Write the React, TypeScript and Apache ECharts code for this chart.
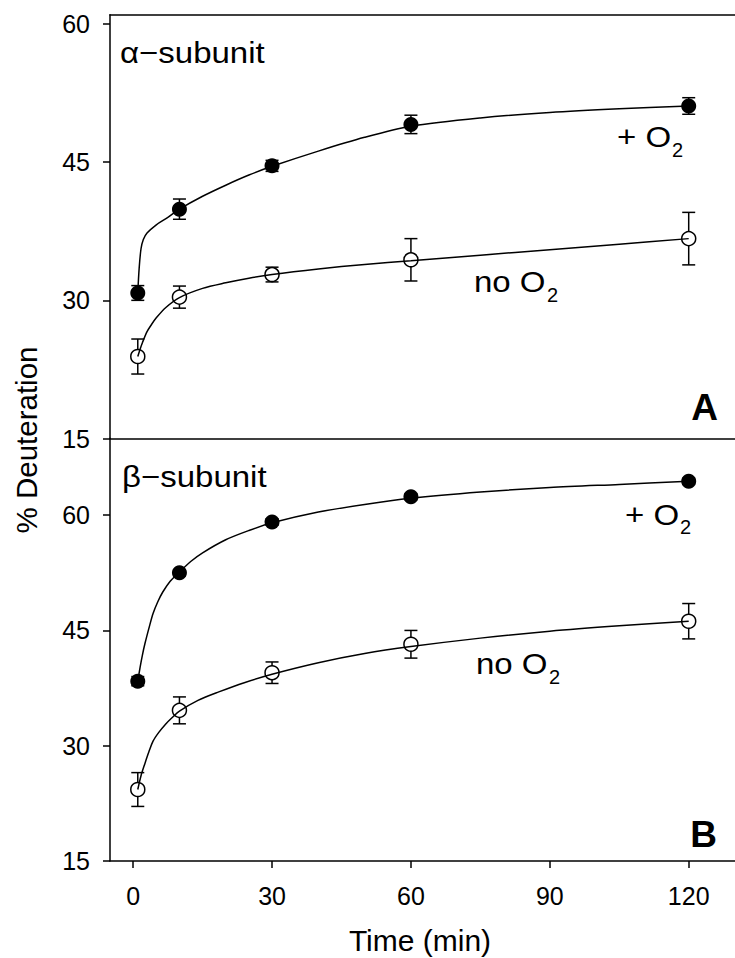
import React, { useEffect, useRef } from "react";
import * as echarts from "echarts";

// ---- data ----
const timePoints = [1, 10, 30, 60, 120];

const alphaO2Mean = [30.8, 39.9, 44.6, 49.1, 51.1];
const alphaO2Err = [0.8, 1.1, 0.6, 1.0, 0.9];
const alphaNoO2Mean = [23.9, 30.35, 32.8, 34.4, 36.7];
const alphaNoO2Err = [1.9, 1.2, 0.8, 2.3, 2.85];

const betaO2Mean = [38.4, 52.5, 59.1, 62.4, 64.4];
const betaO2Err = [0.6, 0.4, 0.4, 0.4, 0.4];
const betaNoO2Mean = [24.3, 34.6, 39.5, 43.2, 46.2];
const betaNoO2Err = [2.2, 1.75, 1.4, 1.8, 2.3];

// fitted curves, points
const alphaO2Fit = [
  [1, 30.8], [1.3, 33.5], [1.7, 35.6], [2.2, 36.6], [3, 37.3], [5, 38.2], [7.5, 39.0],
  [10, 39.9], [15, 41.3], [20, 42.5], [25, 43.6], [30, 44.55], [40, 46.2], [50, 47.7],
  [60, 48.9], [75, 49.8], [90, 50.4], [105, 50.8], [120, 51.1],
];
const alphaNoO2Fit = [
  [1, 23.9], [1.5, 24.7], [2, 25.4], [3, 26.6], [4, 27.4], [5, 28.1], [7, 29.2],
  [10, 30.3], [15, 31.3], [20, 31.9], [25, 32.4], [30, 32.8], [40, 33.4], [50, 33.9],
  [60, 34.3], [75, 34.9], [90, 35.5], [105, 36.1], [120, 36.7],
];
const betaO2Fit = [
  [1, 38.4], [1.5, 40.2], [2, 41.8], [2.55, 43.3], [3.5, 45.5], [4.3, 47.2], [5.3, 48.7],
  [6.4, 50.0], [8, 51.4], [10, 52.6], [12.5, 54.0], [15, 55.1], [20, 56.8], [25, 58.0],
  [30, 59.0], [40, 60.4], [50, 61.4], [60, 62.2], [75, 63.0], [90, 63.6], [105, 64.0], [120, 64.4],
];
const betaNoO2Fit = [
  [1, 24.3], [1.7, 26.1], [2.55, 27.7], [3.4, 29.2], [4.3, 30.6], [5.5, 31.7], [7, 32.8],
  [8.5, 33.7], [10, 34.5], [14, 35.9], [18.5, 37.0], [24, 38.2], [30, 39.3], [40, 40.8],
  [50, 42.0], [60, 42.9], [75, 44.0], [90, 44.9], [105, 45.6], [120, 46.2],
];

const xTicks = [0, 30, 60, 90, 120];
const yTicks = [15, 30, 45, 60];

const FONT = "Liberation Sans, Arial, Helvetica, sans-serif";

function pts(means: number[]) {
  return timePoints.map((t, i) => [t, means[i]]);
}
function errs(means: number[], e: number[]) {
  return timePoints.map((t, i) => [t, means[i] - e[i], means[i] + e[i]]);
}

const errorRender = (params: any, api: any) => {
  const x = api.value(0);
  const lo = api.coord([x, api.value(1)]);
  const hi = api.coord([x, api.value(2)]);
  const hw = 6.5;
  const style = { stroke: "#000", lineWidth: 1.5, fill: "none" };
  return {
    type: "group",
    children: [
      { type: "line", shape: { x1: lo[0], y1: lo[1], x2: hi[0], y2: hi[1] }, style },
      { type: "line", shape: { x1: lo[0] - hw, y1: lo[1], x2: lo[0] + hw, y2: lo[1] }, style },
      { type: "line", shape: { x1: hi[0] - hw, y1: hi[1], x2: hi[0] + hw, y2: hi[1] }, style },
    ],
  };
};

function panelSeries(
  idx: number,
  o2Mean: number[], o2Err: number[], noMean: number[], noErr: number[],
  o2Fit: number[][], noFit: number[][]
) {
  const axes = { xAxisIndex: idx === 0 ? 0 : 2, yAxisIndex: idx };
  const lineCommon = {
    type: "line", ...axes, smooth: 0.3, showSymbol: false, symbol: "none",
    lineStyle: { color: "#000", width: 1.5, opacity: 1 }, z: 4, silent: true,
  };
  return [
    { type: "custom", ...axes, renderItem: errorRender, data: errs(o2Mean, o2Err), encode: { x: 0, y: [1, 2] }, z: 2, silent: true },
    { type: "custom", ...axes, renderItem: errorRender, data: errs(noMean, noErr), encode: { x: 0, y: [1, 2] }, z: 2, silent: true },
    { type: "scatter", ...axes, data: pts(o2Mean), symbol: "circle", symbolSize: 15, itemStyle: { color: "#000", opacity: 1 }, z: 3 },
    { type: "scatter", ...axes, data: pts(noMean), symbol: "circle", symbolSize: 14, itemStyle: { color: "#fff", borderColor: "#000", borderWidth: 1.5, opacity: 1 }, z: 3 },
    { ...lineCommon, data: o2Fit },
    { ...lineCommon, data: noFit },
  ];
}

const axisLineStyle = { color: "#000", width: 1.5 };

function yAxis(gridIndex: number, max: number) {
  return {
    type: "value",
    gridIndex,
    min: 15,
    max,
    splitLine: { show: false },
    axisLine: { show: true, onZero: false, lineStyle: axisLineStyle },
    axisTick: { show: true, inside: false, length: 7, customValues: yTicks, lineStyle: axisLineStyle },
    axisLabel: { show: true, customValues: yTicks, margin: 20, fontSize: 25, color: "#000", fontFamily: FONT },
  };
}

function txt(text: string, x: number, y: number, fontSize: number, extra: any = {}, sx = 1) {
  return {
    type: "text",
    x,
    y,
    scaleX: sx,
    style: {
      text,
      fontSize,
      fontFamily: FONT,
      fill: "#000",
      textAlign: "left",
      textVerticalAlign: "middle",
      ...extra,
    },
    z: 10,
  };
}

export default function App() {
  const ref = useRef<HTMLDivElement>(null);
  useEffect(() => {
    if (!ref.current) return;
    const chart = echarts.init(ref.current, null, { renderer: "svg" });
    const xBase = {
      type: "value", min: -5, max: 130, splitLine: { show: false },
      axisLine: { show: true, onZero: false, lineStyle: axisLineStyle },
    };
    const option: any = {
      animation: false,
      backgroundColor: "#fff",
      grid: [
        { left: 110, right: -10, top: 14.8, height: 423.7 },
        { left: 110, right: -10, top: 438.3, height: 422.7 },
      ],
      xAxis: [
        { ...xBase, gridIndex: 0, position: "bottom", axisTick: { show: false }, axisLabel: { show: false } },
        { ...xBase, gridIndex: 0, position: "top", axisTick: { show: false }, axisLabel: { show: false } },
        {
          ...xBase, gridIndex: 1, position: "bottom",
          axisTick: { show: true, length: 7, customValues: xTicks, lineStyle: axisLineStyle },
          axisLabel: { show: true, customValues: xTicks, margin: 22, fontSize: 25, color: "#000", fontFamily: FONT },
        },
      ],
      yAxis: [yAxis(0, 61), yAxis(1, 70)],
      series: [
        ...panelSeries(0, alphaO2Mean, alphaO2Err, alphaNoO2Mean, alphaNoO2Err, alphaO2Fit, alphaNoO2Fit),
        ...panelSeries(1, betaO2Mean, betaO2Err, betaNoO2Mean, betaNoO2Err, betaO2Fit, betaNoO2Fit),
      ],
      graphic: [
        {
          type: "text", x: 26, y: 440, rotation: Math.PI / 2,
          style: { text: "% Deuteration", fontSize: 29.5, fontFamily: FONT, fill: "#000", textAlign: "center", textVerticalAlign: "middle" },
          z: 10,
        },
        {
          type: "text", x: 420, y: 940,
          style: { text: "Time (min)", fontSize: 30, fontFamily: FONT, fill: "#000", textAlign: "center", textVerticalAlign: "middle" },
          z: 10,
        },
        txt("α−subunit", 120, 52.6, 30, {}, 1.1),
        txt("β−subunit", 122, 476.6, 30, {}, 1.1),
        txt("+ O", 617, 136.6, 30, {}, 1.1),
        txt("2", 672, 150, 20),
        txt("no O", 474, 281.6, 30, {}, 1.1),
        txt("2", 547, 294.6, 20),
        txt("+ O", 625, 514.6, 30, {}, 1.1),
        txt("2", 680, 527, 20),
        txt("no O", 476, 663.6, 30, {}, 1.1),
        txt("2", 549, 677, 20),
        txt("A", 718, 407, 37, { fontWeight: "bold", textAlign: "right" }),
        txt("B", 717, 834, 37, { fontWeight: "bold", textAlign: "right" }),
      ],
    };
    chart.setOption(option);
    return () => chart.dispose();
  }, []);
  return (
    <div
      ref={ref}
      style={{ position: "fixed", left: 0, top: 0, width: 735, height: 958, background: "#fff" }}
    />
  );
}
